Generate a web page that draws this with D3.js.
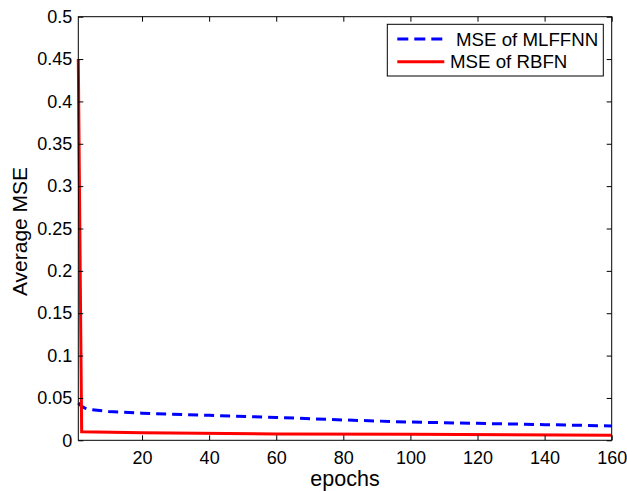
<!DOCTYPE html>
<html>
<head>
<meta charset="utf-8">
<script src="https://cdn.jsdelivr.net/npm/d3@7"></script>
<style>
  html, body { margin: 0; padding: 0; background: #fff; }
  svg { display: block; font-family: "Liberation Sans", Arial, Helvetica, sans-serif; }
</style>
</head>
<body>
<svg id="chart" width="627" height="491"></svg>
<script>
// Training curves: average MSE per epoch for the two networks
const mlffnnEpochs = [1, 2, 3, 5, 10, 20, 40, 60, 80, 100, 120, 140, 160];
const mlffnnMse    = [0.044, 0.040, 0.038, 0.036, 0.034, 0.032, 0.0295, 0.027, 0.024, 0.0215, 0.020, 0.0185, 0.017];
const rbfnEpochs   = [1, 2, 20, 60, 100, 160];
const rbfnMse      = [0.45, 0.010, 0.009, 0.0075, 0.007, 0.006];

const xTicks = [20, 40, 60, 80, 100, 120, 140, 160];
const yTicks = [0, 0.05, 0.1, 0.15, 0.2, 0.25, 0.3, 0.35, 0.4, 0.45, 0.5];
const legendLabels = ["MSE of MLFFNN", "MSE of RBFN"];

const svg = d3.select("#chart");
const plotLeft = 78.3, plotRight = 611.7, plotTop = 16.7, plotBottom = 440.3;

const x = d3.scaleLinear().domain([1, 160]).range([plotLeft, plotRight]);
const y = d3.scaleLinear().domain([0, 0.5]).range([plotBottom, plotTop]);

const tickLen = 5;
const fmtY = d => d === 0 ? "0" : String(+d.toFixed(2));

// Series
const line = d3.line().x(d => x(d[0])).y(d => y(d[1]));
const plot = svg.append("g");
plot.append("path")
  .datum(d3.zip(mlffnnEpochs, mlffnnMse))
  .attr("d", line)
  .attr("fill", "none")
  .attr("stroke", "#0000ff")
  .attr("stroke-width", 3)
  .attr("stroke-dasharray", "10,6");
plot.append("path")
  .datum(d3.zip(rbfnEpochs, rbfnMse))
  .attr("d", line)
  .attr("fill", "none")
  .attr("stroke", "#ff0000")
  .attr("stroke-width", 3);

// Axes (ticks pointing inward, mirrored on top and right)
const axisStyle = g => {
  g.select(".domain").remove();
  g.selectAll(".tick line").attr("stroke", "#000").attr("stroke-width", 1);
  g.selectAll(".tick text").attr("fill", "#000").attr("font-size", "18px")
    .attr("font-family", "'Liberation Sans', Arial, Helvetica, sans-serif");
};

svg.append("g")
  .attr("transform", `translate(0,${plotBottom})`)
  .call(d3.axisBottom(x).tickValues(xTicks).tickSizeInner(-tickLen).tickSizeOuter(0).tickPadding(11))
  .call(axisStyle);

svg.append("g")
  .attr("transform", `translate(0,${plotTop})`)
  .call(d3.axisTop(x).tickValues(xTicks).tickSizeInner(-tickLen).tickSizeOuter(0).tickFormat(""))
  .call(axisStyle);

svg.append("g")
  .attr("transform", `translate(${plotLeft},0)`)
  .call(d3.axisLeft(y).tickValues(yTicks).tickSizeInner(-tickLen).tickSizeOuter(0).tickPadding(6).tickFormat(fmtY))
  .call(axisStyle);

svg.append("g")
  .attr("transform", `translate(${plotRight},0)`)
  .call(d3.axisRight(y).tickValues(yTicks).tickSizeInner(-tickLen).tickSizeOuter(0).tickFormat(""))
  .call(axisStyle);

// Frame
svg.append("rect")
  .attr("x", plotLeft).attr("y", plotTop)
  .attr("width", plotRight - plotLeft).attr("height", plotBottom - plotTop)
  .attr("fill", "none").attr("stroke", "#000").attr("stroke-width", 1);

// Axis titles
svg.append("text")
  .attr("x", 345).attr("y", 486)
  .attr("text-anchor", "middle").attr("font-size", "21.5px").attr("fill", "#000")
  .text("epochs");
svg.append("text")
  .attr("transform", "translate(26.5,231.5) rotate(-90)")
  .attr("text-anchor", "middle").attr("font-size", "21px").attr("fill", "#000")
  .text("Average MSE");

// Legend
const legend = svg.append("g");
legend.append("rect")
  .attr("x", 387.3).attr("y", 24.3).attr("width", 216).attr("height", 51.7)
  .attr("fill", "#fff").attr("stroke", "#000").attr("stroke-width", 1);
legend.append("line")
  .attr("x1", 397.3).attr("x2", 445).attr("y1", 39).attr("y2", 39)
  .attr("stroke", "#0000ff").attr("stroke-width", 3).attr("stroke-dasharray", "11,6");
legend.append("line")
  .attr("x1", 397.3).attr("x2", 444.3).attr("y1", 61.7).attr("y2", 61.7)
  .attr("stroke", "#ff0000").attr("stroke-width", 3);
legend.append("text")
  .attr("x", 456).attr("y", 45.7).attr("font-size", "18.7px").attr("fill", "#000")
  .text(legendLabels[0]);
legend.append("text")
  .attr("x", 450).attr("y", 67.7).attr("font-size", "18.7px").attr("fill", "#000")
  .text(legendLabels[1]);
</script>
</body>
</html>
